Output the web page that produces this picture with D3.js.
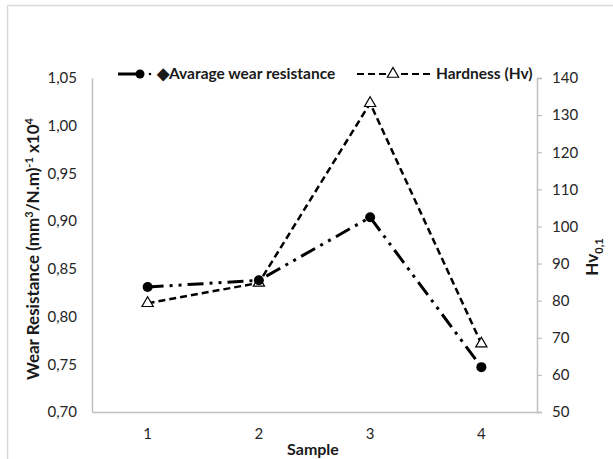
<!DOCTYPE html>
<html>
<head>
<meta charset="utf-8">
<script src="https://cdn.jsdelivr.net/npm/d3@7"></script>
<style>
  body { margin: 0; background: #fff; }
  svg { display: block; font-family: Lato, "Open Sans", sans-serif; }
</style>
</head>
<body>
<div id="chart"></div>
<script>
// data
var samples = ["1", "2", "3", "4"];
var wearResistance = [0.831, 0.838, 0.904, 0.747];
var hardness = [79.3, 84.8, 133.2, 68.4];
var wearTicks = [0.70, 0.75, 0.80, 0.85, 0.90, 0.95, 1.00, 1.05];
var hvTicks = [50, 60, 70, 80, 90, 100, 110, 120, 130, 140];

var W = 613, H = 459;
var m = {left: 92, right: 76, top: 78, bottom: 47};

var svg = d3.select("#chart").append("svg")
  .attr("width", W).attr("height", H);

// outer frame (top + left only visible)
svg.append("path")
  .attr("d", "M7.5," + H + "V5.5H" + W)
  .attr("fill", "none").attr("stroke", "#d9d9d9").attr("stroke-width", 1.5);

var x = d3.scaleBand().domain(samples).range([m.left, W - m.right]);
var yL = d3.scaleLinear().domain([0.70, 1.05]).range([H - m.bottom, m.top]);
var yR = d3.scaleLinear().domain([50, 140]).range([H - m.bottom, m.top]);

var comma = function(d) { return d3.format(".2f")(d).replace(".", ","); };

// left axis
var gL = svg.append("g").attr("transform", "translate(" + m.left + ",0)")
  .call(d3.axisLeft(yL).tickValues(wearTicks).tickFormat(comma).tickSize(0).tickPadding(15));
// right axis
var gR = svg.append("g").attr("transform", "translate(" + (W - m.right) + ",0)")
  .call(d3.axisRight(yR).tickValues(hvTicks).tickSize(5).tickPadding(10));
// bottom axis
var gB = svg.append("g").attr("transform", "translate(0," + (H - m.bottom) + ")")
  .call(d3.axisBottom(x).tickSize(0).tickPadding(16));

[gL, gR, gB].forEach(function(g) {
  g.select(".domain").attr("stroke", "#bfbfbf").attr("stroke-width", 1.5);
  g.selectAll(".tick line").attr("stroke", "#bfbfbf").attr("stroke-width", 1.2);
  g.selectAll("text").attr("font-size", 15).attr("fill", "#262626")
    .attr("font-family", "Lato, 'Open Sans', sans-serif");
});

// axis titles
svg.append("text")
  .attr("transform", "translate(39,249) rotate(-90)")
  .attr("text-anchor", "middle").attr("font-size", 17).attr("font-weight", "bold")
  .attr("fill", "#1a1a1a")
  .html('Wear Resistance (mm<tspan dy="-6" font-size="11">3</tspan><tspan dy="6">/N.m)</tspan><tspan dy="-6" font-size="11">-1</tspan><tspan dy="6"> x10</tspan><tspan dy="-6" font-size="11">4</tspan>');

svg.append("text")
  .attr("transform", "translate(598,257) rotate(-90)")
  .attr("text-anchor", "middle").attr("font-size", 17).attr("font-weight", "bold")
  .attr("fill", "#1a1a1a")
  .html('Hv<tspan dy="5" font-size="11">0,1</tspan>');

svg.append("text")
  .attr("x", 313).attr("y", 455)
  .attr("text-anchor", "middle").attr("font-size", 16).attr("font-weight", "bold")
  .attr("fill", "#1a1a1a").text("Sample");

var cx = function(i) { return x(samples[i]) + x.bandwidth() / 2; };
var tri = d3.symbol().type(d3.symbolTriangle).size(55);

// hardness line
svg.append("path")
  .datum(hardness)
  .attr("fill", "none").attr("stroke", "#000").attr("stroke-width", 2.5)
  .attr("stroke-dasharray", "7,4")
  .attr("d", d3.line().x(function(d, i) { return cx(i); }).y(function(d) { return yR(d); }));

// wear line
svg.append("path")
  .datum(wearResistance)
  .attr("fill", "none").attr("stroke", "#000").attr("stroke-width", 3)
  .attr("stroke-dasharray", "16,6,3,6,3,6")
  .attr("d", d3.line().x(function(d, i) { return cx(i); }).y(function(d) { return yL(d); }));

svg.selectAll(".hv").data(hardness).enter().append("path")
  .attr("transform", function(d, i) { return "translate(" + cx(i) + "," + yR(d) + ")"; })
  .attr("d", tri).attr("fill", "#fff").attr("stroke", "#000").attr("stroke-width", 1.2);

svg.selectAll(".wr").data(wearResistance).enter().append("circle")
  .attr("cx", function(d, i) { return cx(i); })
  .attr("cy", function(d) { return yL(d); })
  .attr("r", 5).attr("fill", "#000");

// legend
var ly = 74;
svg.append("line").attr("x1", 118).attr("x2", 140).attr("y1", ly).attr("y2", ly)
  .attr("stroke", "#000").attr("stroke-width", 3);
svg.append("circle").attr("cx", 140).attr("cy", ly).attr("r", 4.5).attr("fill", "#000");
svg.append("circle").attr("cx", 150).attr("cy", ly).attr("r", 1.3).attr("fill", "#000");
svg.append("text").attr("x", 157).attr("y", ly + 5)
  .attr("font-size", 15.5).attr("font-weight", "bold").attr("fill", "#1a1a1a")
  .text("◆Avarage wear resistance");

svg.append("line").attr("x1", 357).attr("x2", 432).attr("y1", ly).attr("y2", ly)
  .attr("stroke", "#000").attr("stroke-width", 2).attr("stroke-dasharray", "7,4");
svg.append("path").attr("transform", "translate(393," + ly + ")")
  .attr("d", tri).attr("fill", "#fff").attr("stroke", "#000").attr("stroke-width", 1.2);
svg.append("text").attr("x", 436).attr("y", ly + 5)
  .attr("font-size", 15.5).attr("font-weight", "bold").attr("fill", "#1a1a1a")
  .text("Hardness (Hv)");
</script>
</body>
</html>
